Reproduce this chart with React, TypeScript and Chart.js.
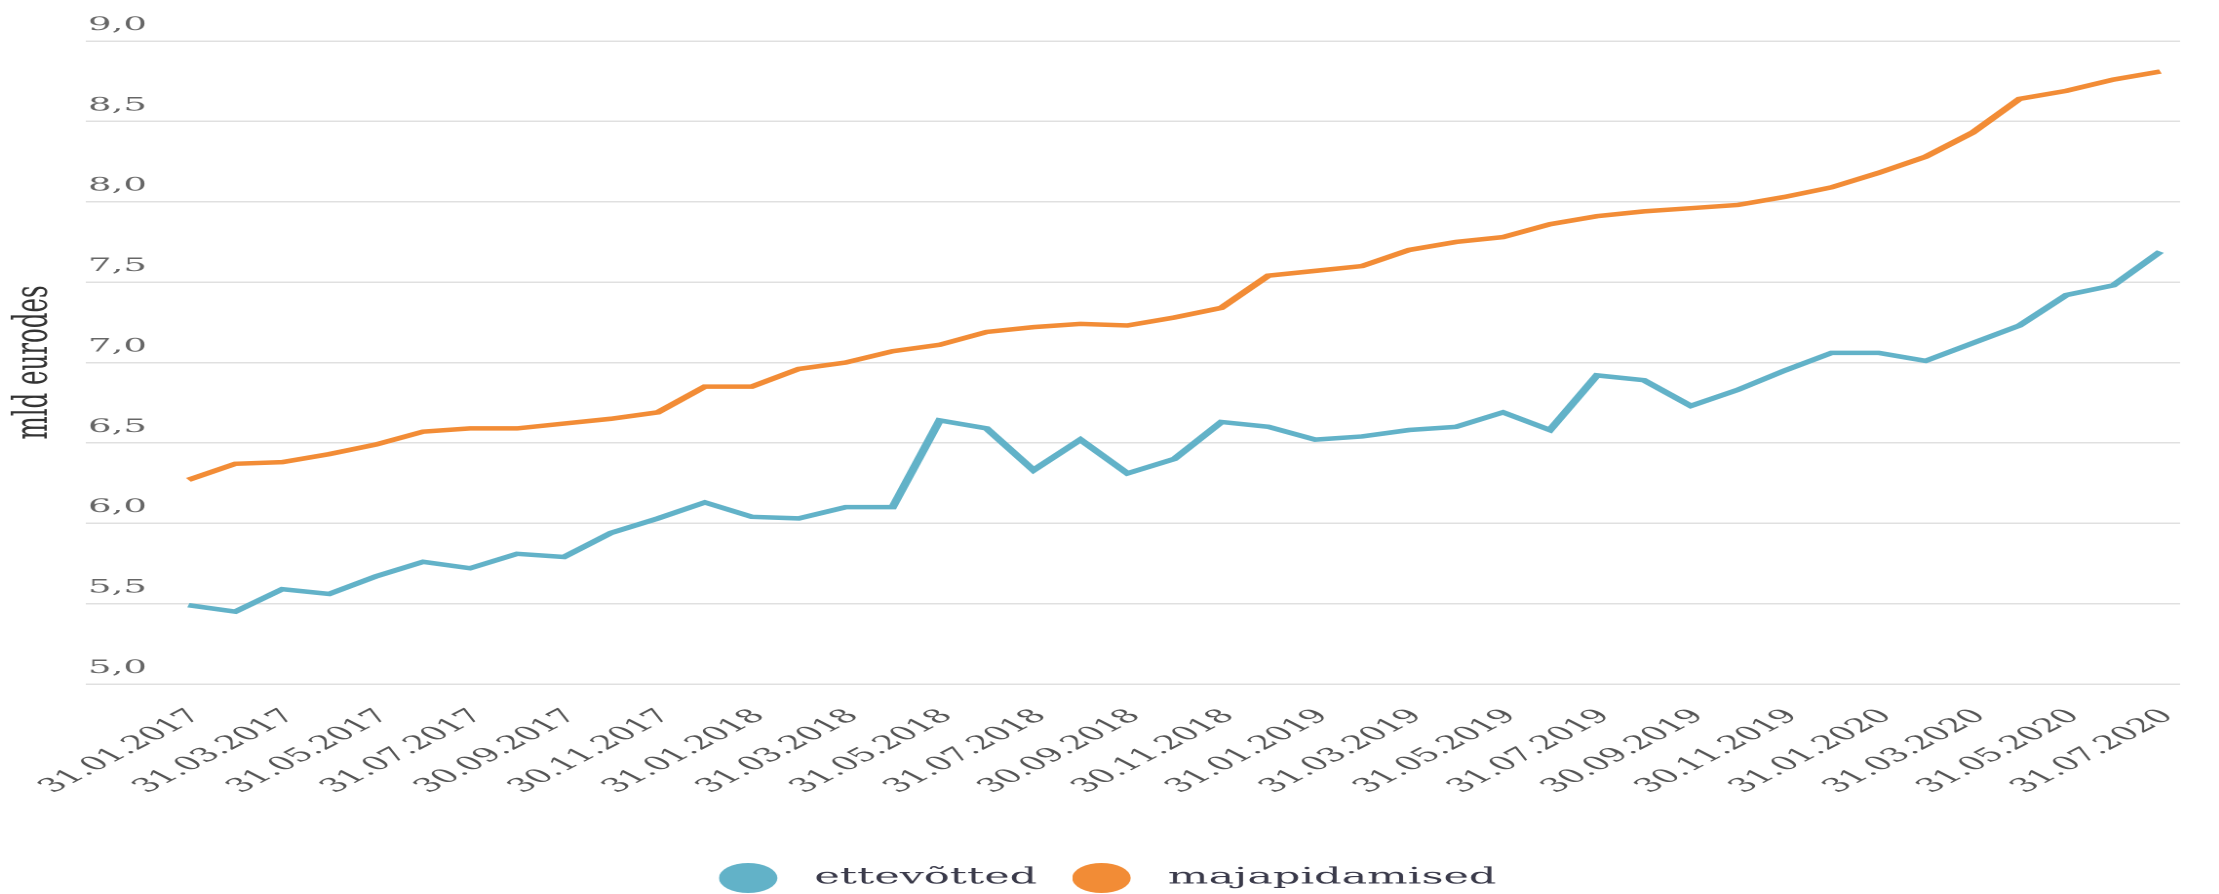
import { useEffect, useRef } from 'react';
import { Chart, registerables } from 'chart.js';

Chart.register(...registerables);

const labels = [
  '31.01.2017', '28.02.2017', '31.03.2017', '30.04.2017', '31.05.2017', '30.06.2017',
  '31.07.2017', '31.08.2017', '30.09.2017', '31.10.2017', '30.11.2017', '31.12.2017',
  '31.01.2018', '28.02.2018', '31.03.2018', '30.04.2018', '31.05.2018', '30.06.2018',
  '31.07.2018', '31.08.2018', '30.09.2018', '31.10.2018', '30.11.2018', '31.12.2018',
  '31.01.2019', '28.02.2019', '31.03.2019', '30.04.2019', '31.05.2019', '30.06.2019',
  '31.07.2019', '31.08.2019', '30.09.2019', '31.10.2019', '30.11.2019', '31.12.2019',
  '31.01.2020', '29.02.2020', '31.03.2020', '30.04.2020', '31.05.2020', '30.06.2020',
  '31.07.2020',
];

const ettevotted = [
  5.49, 5.45, 5.59, 5.56, 5.67, 5.76, 5.72, 5.81, 5.79, 5.94, 6.03, 6.13,
  6.04, 6.03, 6.1, 6.1, 6.64, 6.59, 6.33, 6.52, 6.31, 6.4, 6.63, 6.6,
  6.52, 6.54, 6.58, 6.6, 6.69, 6.58, 6.92, 6.89, 6.73, 6.83, 6.95, 7.06,
  7.06, 7.01, 7.12, 7.23, 7.42, 7.48, 7.69,
];

const majapidamised = [
  6.27, 6.37, 6.38, 6.43, 6.49, 6.57, 6.59, 6.59, 6.62, 6.65, 6.69, 6.85,
  6.85, 6.96, 7.0, 7.07, 7.11, 7.19, 7.22, 7.24, 7.23, 7.28, 7.34, 7.54,
  7.57, 7.6, 7.7, 7.75, 7.78, 7.86, 7.91, 7.94, 7.96, 7.98, 8.03, 8.09,
  8.18, 8.28, 8.43, 8.64, 8.69, 8.76, 8.81,
];

const seriesNames = ['ettevõtted', 'majapidamised'];
const BLUE = '#62b2c8';
const ORANGE = '#f28c36';

const STRETCH = 1.95;
const W = 1137;
const H = 899;
const FONT = "'DejaVu Serif', serif";

function makeDot(color: string): Promise<HTMLImageElement> {
  return new Promise((resolve) => {
    const img = new Image(38, 30);
    const svg =
      `<svg xmlns="http://www.w3.org/2000/svg" width="38" height="30" viewBox="0 0 38 30">` +
      `<circle cx="15" cy="15" r="15" fill="${color}"/></svg>`;
    img.onload = () => resolve(img);
    img.onerror = () => resolve(img);
    img.src = 'data:image/svg+xml;charset=utf-8,' + encodeURIComponent(svg);
  });
}

export default function App() {
  const ref = useRef<HTMLCanvasElement>(null);

  useEffect(() => {
    document.body.style.overflow = 'hidden';
    let cancelled = false;
    const chart = new Chart(ref.current as HTMLCanvasElement, {
      type: 'line',
      data: {
        datasets: [
          {
            label: seriesNames[0],
            data: ettevotted.map((v, i) => ({ x: i, y: v })),
            borderColor: BLUE,
            backgroundColor: BLUE,
            borderWidth: 4.5,
            pointRadius: 0,
            pointStyle: 'circle',
            tension: 0,
          },
          {
            label: seriesNames[1],
            data: majapidamised.map((v, i) => ({ x: i, y: v })),
            borderColor: ORANGE,
            backgroundColor: ORANGE,
            borderWidth: 4.5,
            pointRadius: 0,
            pointStyle: 'circle',
            tension: 0,
          },
        ],
      },
      options: {
        animation: false,
        responsive: true,
        maintainAspectRatio: false,
        devicePixelRatio: 2,
        layout: { padding: { top: 41, right: 1, left: 0, bottom: 0 } },
        plugins: {
          tooltip: { enabled: false },
          legend: {
            position: 'bottom',
            labels: {
              usePointStyle: true,
              pointStyleWidth: 38,
              padding: 18,
              color: '#3a3a4a',
              font: { family: FONT, size: 22 },
            },
          },
        },
        scales: {
          x: {
            type: 'linear',
            min: -2.18,
            max: 42.42,
            grid: { display: false },
            border: { display: false },
            afterBuildTicks: (axis: any) => {
              axis.ticks = labels
                .map((_, i) => ({ value: i }))
                .filter((t) => t.value % 2 === 0);
            },
            afterFit: (s: any) => {
              s.height = 165;
            },
            ticks: {
              autoSkip: false,
              minRotation: 45,
              maxRotation: 45,
              padding: 13,
              labelOffset: 4,
              color: '#555555',
              font: { family: FONT, size: 19 },
              callback: (v: any) => labels[Number(v)] ?? '',
            },
          },
          y: {
            min: 5,
            max: 9,
            afterFit: (s: any) => {
              s.width = 44.1;
            },
            grid: { color: '#e0e0e0', lineWidth: 1.5, drawTicks: false },
            border: { display: false },
            title: {
              display: true,
              text: 'mld eurodes',
              align: 'center',
              color: '#333333',
              font: { family: FONT, size: 24.5 },
              padding: { top: 3, bottom: 0 },
            },
            ticks: {
              stepSize: 0.5,
              mirror: true,
              padding: 1,
              labelOffset: -16,
              color: '#666666',
              font: { family: FONT, size: 19 },
              callback: (v: any) => Number(v).toFixed(1).replace('.', ','),
            },
          },
        },
      },
    });

    Promise.all([makeDot(BLUE), makeDot(ORANGE)]).then(([b, o]) => {
      if (cancelled) return;
      if (b.complete && b.naturalWidth > 0 && o.complete && o.naturalWidth > 0) {
        (chart.data.datasets[0] as any).pointStyle = b;
        (chart.data.datasets[1] as any).pointStyle = o;
        chart.update('none');
      }
    });

    return () => {
      cancelled = true;
      chart.destroy();
    };
  }, []);

  return (
    <div
      style={{
        position: 'absolute',
        left: 0,
        top: 0,
        width: W,
        height: H,
        transform: `scaleX(${STRETCH})`,
        transformOrigin: '0 0',
      }}
    >
      <canvas ref={ref} />
    </div>
  );
}
